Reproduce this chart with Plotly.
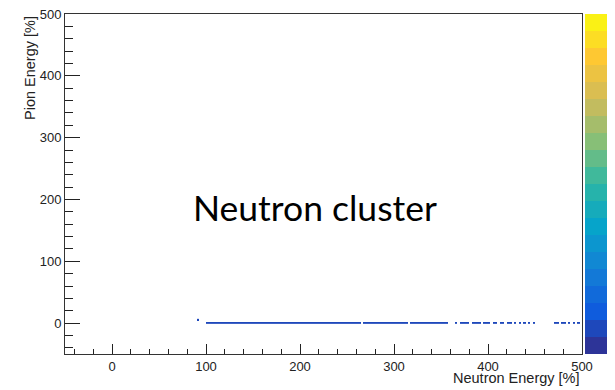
import numpy as np
import plotly.graph_objects as go

# ---- data ----
# Neutron-energy ranges [%] filled in the pion ~0% row, with counts
band_start = [100.0, 267.5, 317.5, 365.0, 370.0, 382.5, 395.0, 405.0, 412.5, 420.0, 427.5,
              432.5, 437.5, 442.5, 447.5, 470.0, 477.5, 485.0, 490.0, 495.0]
band_end   = [265.0, 315.0, 357.5, 367.5, 380.0, 392.5, 402.5, 410.0, 417.5, 425.0, 430.0,
              435.0, 440.0, 445.0, 450.0, 475.0, 482.5, 487.5, 492.5, 497.5]
band_count = [3, 3, 3, 2, 3, 3, 3, 3, 3, 3, 3,
              2, 2, 2, 2, 2, 2, 2, 2, 2]
# single isolated entry
dot_neutron = [92.5]
dot_pion = [5.0]
dot_count = [2]

# histogram binning
x_min, x_max, x_bin = -50.0, 500.0, 2.5
y_edges = [-1.375, 1.375, 4.125, 6.875]
z_max_log = 4.84

x_ticks = [0, 100, 200, 300, 400, 500]
y_ticks = [0, 100, 200, 300, 400, 500]

# ---- build histogram ----
x_edges = np.arange(x_min, x_max + x_bin / 2, x_bin)
centers = (x_edges[:-1] + x_edges[1:]) / 2
z = np.full((len(y_edges) - 1, len(centers)), np.nan)
for s, e, c in zip(band_start, band_end, band_count):
    m = (centers >= s) & (centers <= e)
    z[0, m] = np.log10(c)
for xn, yp, c in zip(dot_neutron, dot_pion, dot_count):
    i = int(np.argmin(np.abs(centers - xn)))
    j = int(np.searchsorted(y_edges, yp) - 1)
    z[j, i] = np.log10(c)

# ROOT kBird palette, 20 contour levels
stops = np.linspace(0, 1, 9)
red = [0.2082, 0.0592, 0.0780, 0.0232, 0.1802, 0.5301, 0.8186, 0.9956, 0.9764]
green = [0.1664, 0.3599, 0.5041, 0.6419, 0.7178, 0.7492, 0.7328, 0.7862, 0.9832]
blue = [0.5293, 0.8684, 0.8385, 0.7914, 0.6425, 0.4662, 0.3499, 0.1968, 0.0539]
nlev = 20
cs = []
for i in range(nlev):
    f = (i + 0.5) / nlev
    r = np.interp(f, stops, red) * 255
    g = np.interp(f, stops, green) * 255
    b = np.interp(f, stops, blue) * 255
    col = f"rgb({r:.0f},{g:.0f},{b:.0f})"
    cs.append([i / nlev, col])
    cs.append([(i + 1) / nlev, col])

# colour-bar tick positions (log decades with minor ticks)
cb_ticks = []
for d in range(0, 5):
    for k in range(1, 10):
        v = np.log10(k * 10 ** d)
        if 0 < v < z_max_log:
            cb_ticks.append(v)

fig = go.Figure()
fig.add_trace(go.Heatmap(
    x=x_edges, y=y_edges, z=z,
    zmin=0, zmax=z_max_log, colorscale=cs,
    hoverongaps=False,
    colorbar=dict(
        x=1.0058, xanchor="left", xpad=0, thickness=29,
        y=0.5, yanchor="middle", len=1, lenmode="fraction", ypad=0,
        outlinewidth=0, ticks="inside", ticklen=7, tickcolor="#222",
        tickvals=cb_ticks, showticklabels=False,
    ),
))

axis_font = dict(family="Liberation Sans, Arial, sans-serif", size=13, color="#222")
title_font = dict(family="Liberation Sans, Arial, sans-serif", size=14.5, color="#222")
fig.update_layout(
    width=607, height=382,
    margin=dict(l=57, r=33, t=6, b=36, autoexpand=False),
    paper_bgcolor="white", plot_bgcolor="white",
    showlegend=False,
    font=axis_font,
    xaxis=dict(
        range=[x_min, x_max], tickvals=x_ticks, ticks="inside", ticklen=10,
        tickcolor="#222", tickwidth=1, showgrid=False, zeroline=False,
        showline=True, linecolor="#333", linewidth=1, mirror=True,
        minor=dict(dtick=20, tick0=0, ticks="inside", ticklen=5, tickcolor="#222", showgrid=False),
        tickfont=axis_font, ticklabelstandoff=0, automargin=False,
        ticklabeloverflow="allow",
    ),
    yaxis=dict(
        range=[-50, 500], tickvals=y_ticks, ticks="inside", ticklen=15,
        tickcolor="#222", tickwidth=1, showgrid=False, zeroline=False,
        showline=True, linecolor="#333", linewidth=1, mirror=True,
        minor=dict(dtick=20, tick0=0, ticks="inside", ticklen=8, tickcolor="#222", showgrid=False),
        tickfont=axis_font, ticklabelstandoff=0, automargin=False,
        ticklabeloverflow="allow",
    ),
    annotations=[
        dict(text="Neutron Energy [%]", xref="paper", yref="paper", x=1.0, y=-0.071,
             xanchor="right", yanchor="middle", showarrow=False, font=title_font),
        dict(text="Pion Energy [%]", xref="paper", yref="paper", x=-0.0677, y=1.0,
             xanchor="center", yanchor="top", textangle=-90, showarrow=False, font=title_font),
        dict(text="Neutron cluster", xref="paper", yref="paper", x=0.4836, y=0.432,
             xanchor="center", yanchor="middle", showarrow=False,
             font=dict(family="Lato, Carlito, sans-serif", size=35.5, color="black")),
    ],
)

fig.write_html("out.html")
